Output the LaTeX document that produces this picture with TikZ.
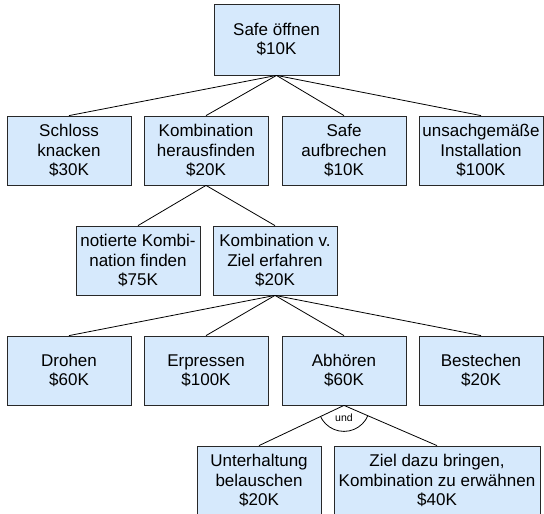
\documentclass[tikz,border=0pt]{standalone}
\usepackage{fontspec}
\setmainfont{Liberation Sans}
\usetikzlibrary{shadows,calc}
\definecolor{boxfill}{RGB}{214,233,252}
\definecolor{boxline}{RGB}{40,40,40}
\tikzset{
  box/.style={draw=boxline, fill=boxfill, line width=0.8pt, rectangle, inner sep=0pt,
    minimum width=124pt, minimum height=69pt, align=center,
    font=\fontsize{17}{19.5}\selectfont,
    drop shadow={shadow xshift=0.8pt, shadow yshift=-0.8pt, fill=black!55, opacity=1}},
  link/.style={draw=black, line width=0.8pt},
}
\begin{document}
\begin{tikzpicture}[x=1pt,y=-1pt]
\useasboundingbox (0,0) rectangle (544,514);
\clip (0,0) rectangle (544,514);
\fill[white] (0,0) rectangle (544,514);
% row 1
\node[box, minimum width=125pt, minimum height=71pt] (top) at (276.5,39.5) {Safe öffnen\\\$10K};
% row 2
\node[box] (schloss) at (69,150.5) {Schloss\\knacken\\\$30K};
\node[box] (kombi) at (206,150.5) {Kombination\\herausfinden\\\$20K};
\node[box] (safe) at (344,150.5) {Safe\\aufbrechen\\\$10K};
\node[box] (unsach) at (481,150.5) {unsachgemäße\\Installation\\\$100K};
% row 3
\node[box] (notiert) at (138,260.5) {notierte Kombi-\\nation finden\\\$75K};
\node[box] (ziel) at (275,260.5) {Kombination v.\\Ziel erfahren\\\$20K};
% row 4
\node[box] (drohen) at (69,370.5) {Drohen\\\$60K};
\node[box] (erpressen) at (206,370.5) {Erpressen\\\$100K};
\node[box] (abhoeren) at (344,370.5) {Abhören\\\$60K};
\node[box] (bestechen) at (481,370.5) {Bestechen\\\$20K};
% row 5
\node[box] (unterh) at (259,480.5) {Unterhaltung\\belauschen\\\$20K};
\node[box, minimum width=206pt] (bringen) at (437,480.5) {Ziel dazu bringen,\\Kombination zu erwähnen\\\$40K};
% connectors
\foreach \c in {schloss,kombi,safe,unsach} \draw[link] (top.south) -- (\c.north);
\foreach \c in {notiert,ziel} \draw[link] (kombi.south) -- (\c.north);
\foreach \c in {drohen,erpressen,abhoeren,bestechen} \draw[link] (ziel.south) -- (\c.north);
\foreach \c in {unterh,bringen} \draw[link] (abhoeren.south) -- (\c.north);
% AND arc
\begin{scope}
  \clip (abhoeren.south) -- ($(abhoeren.south)!4!(unterh.north)$) -- ($(abhoeren.south)!4!(bringen.north)$) -- cycle;
  \draw[link] (abhoeren.south) circle (26pt);
\end{scope}
\node[font=\fontsize{10.5}{12}\selectfont, inner sep=0pt] (und) at (344,418) {und};
\end{tikzpicture}
\end{document}
